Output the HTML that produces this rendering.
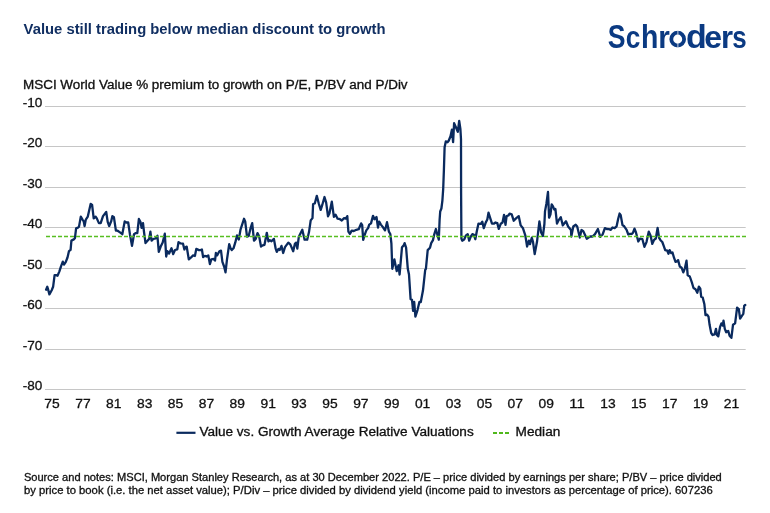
<!DOCTYPE html>
<html><head><meta charset="utf-8"><style>
html,body{margin:0;padding:0;background:#fff;}
body{width:770px;height:513px;overflow:hidden;}
svg{display:block;font-family:"Liberation Sans", sans-serif;will-change:transform;}
.t{stroke:#111;stroke-width:0.3px;}
</style></head><body>
<svg width="770" height="513" viewBox="0 0 770 513">
<rect width="770" height="513" fill="#fff"/>
<text x="23.6" y="33.8" font-size="14" font-weight="bold" fill="#112f62" textLength="362" lengthAdjust="spacingAndGlyphs">Value still trading below median discount to growth</text>
<g fill="#0b3a82">
<text transform="translate(607.87,47.6) scale(0.832,1.058)" font-size="32" font-weight="bold">S</text>
<text transform="translate(625.83,47.6) scale(0.819,0.973)" font-size="32" font-weight="bold">c</text>
<text transform="translate(641.04,47.6) scale(0.889,1.045)" font-size="32" font-weight="bold">h</text>
<text transform="translate(658.25,47.6) scale(0.929,0.973)" font-size="32" font-weight="bold">r</text>
<ellipse cx="677.7" cy="39.15" rx="6.4" ry="6.45" fill="none" stroke="#0b3a82" stroke-width="3.8"/>
<text transform="translate(686.12,47.6) scale(1.062,1.045)" font-size="32" font-weight="bold">d</text>
<text transform="translate(704.20,47.6) scale(1.000,0.973)" font-size="32" font-weight="bold">e</text>
<text transform="translate(720.96,47.6) scale(0.969,0.973)" font-size="32" font-weight="bold">r</text>
<text transform="translate(732.21,47.6) scale(0.810,0.973)" font-size="32" font-weight="bold">s</text>
<rect x="677.45" y="30" width="0.9" height="4.8" fill="#fff" opacity="0.85"/><rect x="677.45" y="43.6" width="0.9" height="4.8" fill="#fff" opacity="0.85"/>
</g>
<text x="23" y="88.75" font-size="12" fill="#111111" class="t" textLength="384.6" lengthAdjust="spacingAndGlyphs">MSCI World Value % premium to growth on P/E, P/BV and P/Div</text>
<line x1="45" y1="106.5" x2="745.7" y2="106.5" stroke="#c6c6c6" stroke-width="1"/>
<line x1="45" y1="146.5" x2="745.7" y2="146.5" stroke="#c6c6c6" stroke-width="1"/>
<line x1="45" y1="187.5" x2="745.7" y2="187.5" stroke="#c6c6c6" stroke-width="1"/>
<line x1="45" y1="227.5" x2="745.7" y2="227.5" stroke="#c6c6c6" stroke-width="1"/>
<line x1="45" y1="268.5" x2="745.7" y2="268.5" stroke="#c6c6c6" stroke-width="1"/>
<line x1="45" y1="308.5" x2="745.7" y2="308.5" stroke="#c6c6c6" stroke-width="1"/>
<line x1="45" y1="349.5" x2="745.7" y2="349.5" stroke="#c6c6c6" stroke-width="1"/>
<line x1="45" y1="389.5" x2="745.7" y2="389.5" stroke="#c6c6c6" stroke-width="1"/>
<text x="42.3" y="107" text-anchor="end" font-size="13" fill="#111111" class="t" textLength="19.6" lengthAdjust="spacingAndGlyphs">-10</text>
<text x="42.3" y="147" text-anchor="end" font-size="13" fill="#111111" class="t" textLength="19.6" lengthAdjust="spacingAndGlyphs">-20</text>
<text x="42.3" y="188" text-anchor="end" font-size="13" fill="#111111" class="t" textLength="19.6" lengthAdjust="spacingAndGlyphs">-30</text>
<text x="42.3" y="228" text-anchor="end" font-size="13" fill="#111111" class="t" textLength="19.6" lengthAdjust="spacingAndGlyphs">-40</text>
<text x="42.3" y="269" text-anchor="end" font-size="13" fill="#111111" class="t" textLength="19.6" lengthAdjust="spacingAndGlyphs">-50</text>
<text x="42.3" y="309" text-anchor="end" font-size="13" fill="#111111" class="t" textLength="19.6" lengthAdjust="spacingAndGlyphs">-60</text>
<text x="42.3" y="350" text-anchor="end" font-size="13" fill="#111111" class="t" textLength="19.6" lengthAdjust="spacingAndGlyphs">-70</text>
<text x="42.3" y="390" text-anchor="end" font-size="13" fill="#111111" class="t" textLength="19.6" lengthAdjust="spacingAndGlyphs">-80</text>
<text x="52.00" y="408" text-anchor="middle" font-size="13" fill="#111111" class="t" textLength="15.4" lengthAdjust="spacingAndGlyphs">75</text>
<text x="82.89" y="408" text-anchor="middle" font-size="13" fill="#111111" class="t" textLength="15.4" lengthAdjust="spacingAndGlyphs">77</text>
<text x="113.77" y="408" text-anchor="middle" font-size="13" fill="#111111" class="t" textLength="15.4" lengthAdjust="spacingAndGlyphs">81</text>
<text x="144.66" y="408" text-anchor="middle" font-size="13" fill="#111111" class="t" textLength="15.4" lengthAdjust="spacingAndGlyphs">83</text>
<text x="175.54" y="408" text-anchor="middle" font-size="13" fill="#111111" class="t" textLength="15.4" lengthAdjust="spacingAndGlyphs">85</text>
<text x="206.43" y="408" text-anchor="middle" font-size="13" fill="#111111" class="t" textLength="15.4" lengthAdjust="spacingAndGlyphs">87</text>
<text x="237.32" y="408" text-anchor="middle" font-size="13" fill="#111111" class="t" textLength="15.4" lengthAdjust="spacingAndGlyphs">89</text>
<text x="268.20" y="408" text-anchor="middle" font-size="13" fill="#111111" class="t" textLength="15.4" lengthAdjust="spacingAndGlyphs">91</text>
<text x="299.09" y="408" text-anchor="middle" font-size="13" fill="#111111" class="t" textLength="15.4" lengthAdjust="spacingAndGlyphs">93</text>
<text x="329.97" y="408" text-anchor="middle" font-size="13" fill="#111111" class="t" textLength="15.4" lengthAdjust="spacingAndGlyphs">95</text>
<text x="360.86" y="408" text-anchor="middle" font-size="13" fill="#111111" class="t" textLength="15.4" lengthAdjust="spacingAndGlyphs">97</text>
<text x="391.75" y="408" text-anchor="middle" font-size="13" fill="#111111" class="t" textLength="15.4" lengthAdjust="spacingAndGlyphs">99</text>
<text x="422.63" y="408" text-anchor="middle" font-size="13" fill="#111111" class="t" textLength="15.4" lengthAdjust="spacingAndGlyphs">01</text>
<text x="453.52" y="408" text-anchor="middle" font-size="13" fill="#111111" class="t" textLength="15.4" lengthAdjust="spacingAndGlyphs">03</text>
<text x="484.40" y="408" text-anchor="middle" font-size="13" fill="#111111" class="t" textLength="15.4" lengthAdjust="spacingAndGlyphs">05</text>
<text x="515.29" y="408" text-anchor="middle" font-size="13" fill="#111111" class="t" textLength="15.4" lengthAdjust="spacingAndGlyphs">07</text>
<text x="546.18" y="408" text-anchor="middle" font-size="13" fill="#111111" class="t" textLength="15.4" lengthAdjust="spacingAndGlyphs">09</text>
<text x="577.06" y="408" text-anchor="middle" font-size="13" fill="#111111" class="t" textLength="15.4" lengthAdjust="spacingAndGlyphs">11</text>
<text x="607.95" y="408" text-anchor="middle" font-size="13" fill="#111111" class="t" textLength="15.4" lengthAdjust="spacingAndGlyphs">13</text>
<text x="638.83" y="408" text-anchor="middle" font-size="13" fill="#111111" class="t" textLength="15.4" lengthAdjust="spacingAndGlyphs">15</text>
<text x="669.72" y="408" text-anchor="middle" font-size="13" fill="#111111" class="t" textLength="15.4" lengthAdjust="spacingAndGlyphs">17</text>
<text x="700.61" y="408" text-anchor="middle" font-size="13" fill="#111111" class="t" textLength="15.4" lengthAdjust="spacingAndGlyphs">19</text>
<text x="731.49" y="408" text-anchor="middle" font-size="13" fill="#111111" class="t" textLength="15.4" lengthAdjust="spacingAndGlyphs">21</text>
<path d="M46.1,289.7 L47.3,286.8 L48.0,289.0 L49.4,294.4 L51.7,290.3 L53.1,286.8 L54.6,275.1 L56.1,275.1 L57.5,275.7 L59.3,271.6 L61.0,266.3 L62.8,261.6 L64.0,264.6 L65.7,262.2 L67.5,257.5 L69.0,251.1 L70.6,249.9 L71.4,240.6 L73.8,239.4 L74.9,238.3 L76.1,228.3 L77.9,227.7 L79.0,226.6 L80.8,216.6 L82.5,219.6 L83.7,221.3 L84.6,226.0 L85.8,219.6 L87.8,216.6 L90.7,203.8 L92.1,204.9 L93.7,218.4 L95.6,216.6 L96.8,218.4 L98.9,223.1 L100.7,223.1 L103.0,216.1 L106.2,212.0 L107.7,221.9 L109.2,226.0 L111.2,221.3 L112.4,216.1 L113.9,217.2 L115.9,230.7 L117.6,230.7 L120.0,232.4 L122.3,234.2 L124.7,221.4 L126.4,222.5 L128.2,222.5 L129.9,234.2 L132.0,245.9 L134.0,234.2 L135.8,233.1 L137.3,233.1 L138.9,219.0 L140.5,222.0 L141.6,227.8 L143.0,223.1 L144.0,231.9 L145.5,243.0 L147.5,240.7 L149.2,238.9 L150.4,231.7 L151.6,240.7 L153.3,239.0 L155.7,238.3 L157.4,235.8 L158.8,251.8 L160.7,246.5 L162.7,242.4 L164.8,233.7 L166.2,256.5 L167.4,251.2 L169.1,253.5 L171.5,248.3 L173.2,254.1 L175.0,250.0 L177.3,249.4 L178.5,242.1 L180.3,243.3 L183.0,243.7 L184.4,249.5 L185.5,247.2 L186.7,246.6 L188.8,259.4 L190.8,257.7 L193.1,255.4 L194.9,256.0 L196.3,248.9 L199.0,250.1 L200.7,250.1 L201.9,249.5 L203.1,257.1 L204.8,255.9 L206.6,256.5 L208.3,255.4 L209.9,264.1 L211.3,259.4 L213.6,258.9 L215.0,260.6 L215.9,253.0 L217.1,255.4 L219.4,251.3 L221.0,250.7 L222.4,261.8 L224.1,266.5 L225.5,272.3 L227.0,259.4 L229.2,244.2 L230.6,248.3 L231.8,250.0 L233.5,248.3 L235.3,242.4 L237.0,235.4 L238.8,239.5 L240.5,229.6 L244.0,218.8 L245.2,221.4 L247.0,236.6 L248.7,236.0 L250.5,228.4 L252.2,223.1 L254.0,240.7 L255.7,238.9 L257.5,233.1 L259.2,236.6 L261.0,246.5 L262.7,245.4 L264.5,244.8 L266.8,232.8 L268.4,241.3 L269.8,240.1 L271.5,241.3 L273.9,238.9 L275.6,248.3 L276.8,251.8 L278.5,248.9 L279.7,250.0 L281.5,245.9 L283.2,253.0 L285.0,247.1 L288.3,242.6 L290.3,244.4 L293.2,251.3 L294.9,243.8 L296.1,242.6 L297.3,248.5 L298.8,236.8 L300.2,233.9 L302.3,229.8 L304.6,239.7 L307.2,239.7 L309.0,232.1 L310.7,220.4 L312.5,218.1 L313.1,204.0 L314.8,203.5 L316.8,195.8 L318.9,204.0 L320.7,209.9 L322.2,205.2 L324.5,197.0 L326.2,202.9 L328.0,216.3 L329.4,213.4 L331.8,201.7 L333.9,216.9 L335.5,214.6 L337.6,218.7 L340.0,219.2 L341.8,220.5 L344.1,218.1 L345.8,218.7 L347.3,216.1 L348.4,231.6 L349.9,233.9 L351.7,230.6 L353.8,231.0 L356.4,229.8 L358.7,229.2 L361.1,223.4 L362.2,225.1 L363.2,239.8 L364.6,235.1 L366.3,230.4 L368.1,228.1 L369.2,224.6 L371.0,223.4 L373.0,215.8 L374.5,219.3 L376.5,217.0 L378.0,227.5 L379.2,221.6 L380.9,224.6 L382.7,226.9 L385.0,230.4 L387.0,222.2 L388.9,231.6 L390.3,234.0 L391.4,243.5 L392.3,268.8 L394.4,259.4 L396.7,271.1 L398.5,265.3 L399.6,274.5 L402.0,247.2 L403.7,245.4 L404.6,243.1 L406.1,247.7 L407.8,268.8 L409.0,274.6 L410.6,299.1 L412.0,299.8 L413.1,310.8 L414.2,302.0 L415.4,316.6 L417.5,310.1 L419.4,302.0 L420.8,302.0 L423.0,290.3 L425.2,269.9 L425.9,268.8 L427.7,250.1 L430.0,247.7 L431.2,243.1 L433.0,240.1 L434.1,234.9 L435.9,229.0 L437.6,235.5 L438.8,239.6 L439.6,220.0 L440.2,211.5 L441.4,208.5 L442.4,200.5 L443.2,188.8 L443.9,170.0 L444.6,147.3 L445.8,141.4 L447.5,142.2 L448.7,140.7 L450.5,136.3 L451.9,129.7 L453.1,142.2 L454.1,123.2 L456.0,127.5 L457.8,131.9 L459.2,121.0 L460.4,129.0 L461.0,139.2 L461.1,193.2 L461.4,238.5 L462.2,240.7 L464.4,239.2 L465.8,235.6 L467.7,234.1 L469.2,240.7 L470.9,236.3 L472.4,234.1 L473.9,234.8 L475.3,239.2 L476.8,231.2 L478.5,223.6 L480.9,223.9 L482.3,221.7 L483.8,228.2 L485.8,222.4 L487.3,219.5 L488.5,212.7 L490.3,218.4 L492.0,223.7 L493.8,223.7 L495.5,222.5 L497.3,223.1 L498.8,228.9 L500.8,223.7 L502.5,222.5 L504.0,214.9 L505.5,224.8 L506.6,216.1 L508.4,215.5 L509.6,213.7 L511.7,214.3 L513.7,220.7 L516.0,218.4 L518.7,216.1 L520.7,225.4 L523.0,228.3 L525.3,235.4 L527.1,246.5 L528.9,240.6 L530.0,244.1 L531.8,237.7 L533.0,241.8 L534.7,254.1 L537.0,241.8 L539.4,221.3 L541.1,232.4 L542.9,236.0 L544.4,224.0 L545.0,211.4 L546.4,203.7 L548.0,192.0 L549.1,217.7 L550.5,214.2 L551.7,204.3 L553.1,206.6 L554.3,209.6 L555.4,209.0 L557.0,223.6 L558.7,220.1 L560.8,217.2 L562.8,225.4 L564.6,223.0 L566.0,221.3 L568.1,226.5 L571.0,230.0 L571.3,236.5 L573.3,226.5 L575.7,224.8 L577.2,226.5 L579.8,237.6 L581.5,230.0 L583.3,231.2 L586.8,238.8 L588.5,237.6 L590.3,236.5 L592.6,236.5 L595.0,234.1 L597.9,229.0 L600.3,236.8 L602.6,234.5 L604.9,228.1 L606.7,229.0 L609.0,229.2 L610.8,229.8 L612.5,227.5 L614.6,228.1 L616.6,226.3 L618.2,218.7 L619.6,213.5 L620.7,215.2 L622.5,225.1 L624.2,226.3 L626.6,229.8 L628.3,234.5 L629.9,233.9 L631.8,233.9 L633.0,232.7 L634.5,228.7 L635.9,232.2 L638.3,241.5 L640.0,238.6 L642.4,239.2 L644.4,246.8 L646.5,242.1 L648.8,231.6 L650.6,235.7 L652.3,243.9 L654.1,239.8 L655.8,238.5 L657.6,227.9 L659.1,237.9 L660.5,240.2 L662.3,242.0 L663.8,246.1 L665.2,250.1 L667.3,250.7 L668.5,253.7 L669.6,250.1 L671.1,253.1 L672.5,252.5 L674.0,257.7 L675.5,261.8 L676.9,261.3 L678.1,260.1 L679.8,266.5 L681.6,267.7 L683.3,272.4 L684.9,268.3 L686.5,260.7 L687.7,275.3 L689.8,276.5 L692.1,283.2 L693.5,288.0 L695.5,289.3 L697.3,292.7 L698.9,286.6 L700.3,288.6 L701.2,296.8 L702.7,297.5 L704.4,304.3 L705.5,315.2 L707.1,314.6 L708.5,316.6 L709.6,324.8 L711.2,333.0 L712.6,335.0 L714.6,334.3 L716.0,328.9 L716.9,335.0 L718.3,336.4 L720.1,326.8 L721.4,323.4 L722.8,325.5 L723.5,320.7 L724.8,328.9 L726.2,332.3 L728.2,330.9 L729.6,335.7 L731.4,337.8 L733.0,324.8 L735.1,323.4 L737.1,307.7 L738.8,309.1 L740.1,318.7 L741.9,315.9 L743.3,313.9 L744.2,305.9 L745.3,304.9" fill="none" stroke="#0a2a5e" stroke-width="2.3" stroke-linejoin="round" stroke-linecap="round"/>
<line x1="46" y1="236.5" x2="746" y2="236.5" stroke="#57be22" stroke-width="1.3" stroke-dasharray="4,2"/>
<line x1="176.4" y1="432.8" x2="195.5" y2="432.8" stroke="#0a2a5e" stroke-width="2.2"/>
<text x="199.4" y="435.8" font-size="12" fill="#111111" class="t" textLength="274.3" lengthAdjust="spacingAndGlyphs">Value vs. Growth Average Relative Valuations</text>
<line x1="493" y1="433" x2="509" y2="433" stroke="#50b81c" stroke-width="2" stroke-dasharray="4,2"/>
<text x="515.6" y="435.8" font-size="12" fill="#111111" class="t" textLength="44.7" lengthAdjust="spacingAndGlyphs">Median</text>
<text x="23.9" y="481" font-size="10.5" fill="#111111" class="t" textLength="697.9" lengthAdjust="spacingAndGlyphs">Source and notes: MSCI, Morgan Stanley Research, as at 30 December 2022. P/E – price divided by earnings per share; P/BV – price divided</text>
<text x="24" y="493.5" font-size="10.5" fill="#111111" class="t" textLength="688.7" lengthAdjust="spacingAndGlyphs">by price to book (i.e. the net asset value); P/Div – price divided by dividend yield (income paid to investors as percentage of price). 607236</text>
</svg>
</body></html>
